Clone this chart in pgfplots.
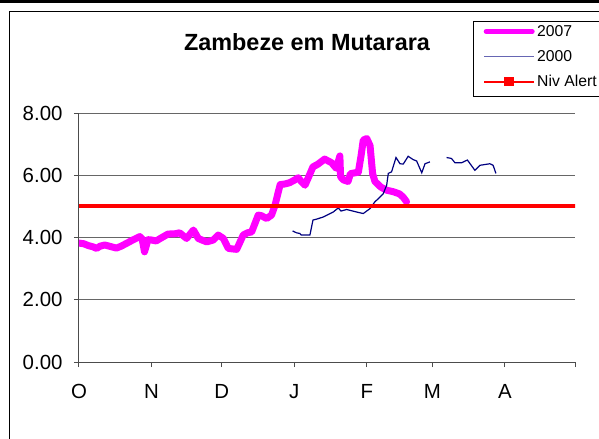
\documentclass[border=0pt]{standalone}
\usepackage{fontspec}
\setmainfont{Liberation Sans}
\usepackage{pgfplots}
\pgfplotsset{compat=1.18}
\definecolor{mag}{RGB}{255,0,255}
\definecolor{navyline}{RGB}{0,0,128}
\definecolor{alert}{RGB}{255,0,0}
\begin{document}
\begin{tikzpicture}
\path[use as bounding box] (0bp,0bp) rectangle (599bp,-439bp);
\fill[black] (0bp,0bp) rectangle (599bp,-3.3bp);
\draw[black, line width=1bp] (9bp,-440bp) -- (9bp,-11bp) -- (600bp,-11bp);
\node[font=\bfseries\fontsize{23.5}{27}\selectfont] at (307bp,-42bp) {Zambeze em Mutarara};
\draw[black, line width=1bp] (473bp,-21bp) rectangle (610bp,-96bp);
\begin{axis}[
  at={(79bp,-362bp)}, anchor=south west,
  scale only axis, width=496bp, height=249bp,
  xmin=0, xmax=212, ymin=0, ymax=8,
  axis x line*=bottom, axis y line*=left,
  xtick={0,31,61,92,123,151,182,212},
  xticklabels={O,N,D,J,F,M,A,{}},
  ytick={0,2,4,6,8},
  yticklabel={\pgfmathprintnumber[fixed,fixed zerofill,precision=2]{\tick}},
  /pgf/number format/assume math mode=true,
  ymajorgrids,
  grid style={black!60, line width=1bp},
  tick align=outside, major tick length=5bp,
  tick style={black!70, line width=1bp},
  axis line style={black!70, line width=1bp},
  ticklabel style={font=\fontsize{20.5}{24}\selectfont},
  xticklabel style={yshift=-14bp},
  yticklabel style={xshift=-8bp},
  legend style={draw=none, fill=none, at={(404bp,339bp)}, anchor=north west,
    inner sep=0pt, row sep=8.5bp, font=\fontsize{15.8}{18}\selectfont,
    legend cell align=left,
    /tikz/every even column/.append style={column sep=2bp}},
  legend cell align=left,
]
\addplot[mag, line width=7bp, line join=round, line cap=round,
  legend image code/.code={\draw[draw=mag, line width=5bp, line cap=round] (2bp,0bp)--(48bp,0bp);}]
 coordinates {
(0,3.82) (2,3.80) (4,3.74) (6,3.70) (7.5,3.65) (9,3.72) (11,3.76) (13,3.72)
(16,3.66) (18,3.72) (20,3.80) (23,3.92) (26,4.03) (27,3.95) (28,3.54) (29.5,3.93)
(31,3.92) (33,3.89) (35,3.98) (38,4.11) (41,4.12) (43,4.15) (46,3.97) (48.9,4.24)
(51,3.97) (52.5,3.92) (54.6,3.86) (57.4,3.92) (59.5,4.08) (61.7,3.97) (63.8,3.65)
(66,3.63) (67.4,3.62) (70.2,4.08) (72,4.15) (73.8,4.18) (75.2,4.45) (76.6,4.72)
(78,4.70) (80.2,4.61) (82.3,4.72) (83.8,5.04) (85.2,5.47) (86,5.70) (88,5.72)
(90,5.76) (92,5.84) (93.7,5.92) (95,5.80) (96.6,5.68) (98,5.92) (100,6.27)
(102,6.35) (105,6.52) (108,6.40) (110,6.22) (111.5,6.62) (111.8,5.95) (113,5.85)
(115,5.80) (116,6.05) (119.4,6.10) (120.5,6.60) (121.5,7.13) (123,7.18) (124.4,6.95)
(125.5,6.05) (126.5,5.80) (129,5.62) (131.5,5.52) (134.4,5.47) (137,5.40) (138.5,5.30)
(140,5.15)
};
\addlegendentry{2007}
\addplot[navyline, line width=1.2bp, unbounded coords=jump,
  legend image code/.code={\draw[draw=navyline!60, line width=1.2bp] (0bp,0bp)--(50bp,0bp);}]
 coordinates {
(91.3,4.21) (93,4.15) (94.4,4.13) (95,4.08) (98.7,4.08) (100,4.56) (102,4.60)
(104.4,4.66) (106,4.72) (108.7,4.82) (110.8,4.95) (112,4.85) (114.4,4.90) (116.5,4.86)
(118.6,4.82) (121.5,4.77) (124.4,4.93) (126.5,5.15) (128,5.25) (130,5.40) (131.5,5.68)
(132.2,6.06) (133.6,6.11) (135.5,6.57) (137.2,6.37) (138.6,6.36) (140.7,6.61)
(142.9,6.50) (144.3,6.46) (146.5,6.08) (147.9,6.37) (150,6.43)
(151,nan)
(157.1,6.57) (159.2,6.54) (160.7,6.40) (163.5,6.40) (166,6.49) (169.2,6.16)
(171.4,6.32) (175.6,6.37) (177,6.32) (178.2,6.06)
};
\addlegendentry{2000}
\addplot[alert, line width=4bp,
  legend image code/.code={\draw[draw=alert, line width=2bp] (0bp,0bp)--(50bp,0bp);
    \fill[fill=alert] (22bp,-2.5bp) rectangle (28bp,2.5bp);}]
 coordinates {(0,5) (213,5)};
\addlegendentry{Niv Alert}
\end{axis}
\end{tikzpicture}
\end{document}
